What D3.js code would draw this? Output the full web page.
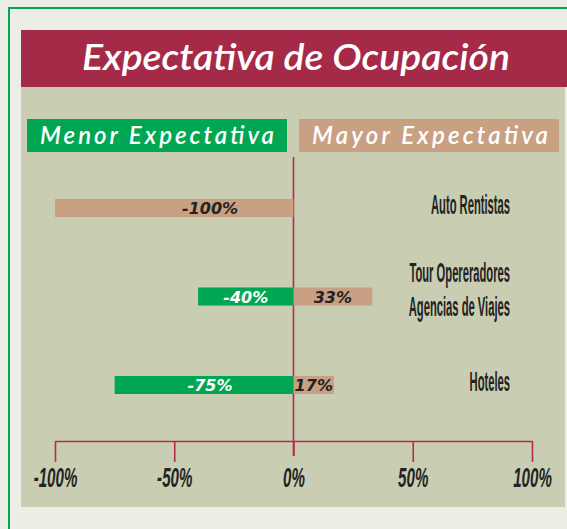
<!DOCTYPE html>
<html>
<head>
<meta charset="utf-8">
<script src="https://cdn.jsdelivr.net/npm/d3@7/dist/d3.min.js"></script>
<style>
  html, body { margin: 0; padding: 0; background: #ecede4; }
  svg { display: block; }
</style>
</head>
<body>
<svg id="chart" width="567" height="529"></svg>
<script>
// Segments and their expectation shares (%)
const categories = ["Auto Rentistas", "Tour Opereradores\nAgencias de Viajes", "Hoteles"];
const menorValues = [null, -40, -75];   // "Menor Expectativa" (green)
const mayorValues = [-100, 33, 17];     // "Mayor Expectativa" (tan)
const tickValues = [-100, -50, 0, 50, 100];
const tickLabels = ["-100%", "-50%", "0%", "50%", "100%"];
const titleText = "Expectativa de Ocupación";
const legendLabels = ["Menor Expectativa", "Mayor Expectativa"];

const W = 567, H = 529;
const C = {
  page: "#ecede4", frame: "#00a651", panel: "#c9cdb1", title: "#a52a48",
  green: "#00a651", tan: "#c9a083", axis: "#b32c4d", ink: "#232323"
};

const svg = d3.select("#chart");

// page frame
svg.append("rect").attr("width", W).attr("height", H).attr("fill", C.page);
svg.append("path").attr("d", `M9,${H} V8 H${W}`)
  .attr("fill", "none").attr("stroke", C.frame).attr("stroke-width", 2);

// panel and title bar
svg.append("rect").attr("x", 21).attr("y", 87).attr("width", 544).attr("height", 420).attr("fill", C.panel);
svg.append("rect").attr("x", 21).attr("y", 30).attr("width", W - 21).attr("height", 57).attr("fill", C.title);
svg.append("text").text(titleText)
  .attr("x", 296).attr("y", 70).attr("text-anchor", "middle")
  .attr("fill", "#fff").attr("font-family", "Lato, 'Open Sans', sans-serif")
  .attr("font-style", "italic").attr("font-weight", 600).attr("font-size", 37)
  .attr("textLength", 428).attr("lengthAdjust", "spacingAndGlyphs");

// legend boxes
const legend = [
  { label: legendLabels[0], color: C.green, x: 27, w: 260, tx: 40, tw: 234 },
  { label: legendLabels[1], color: C.tan, x: 299, w: 260, tx: 312, tw: 236 }
];
legend.forEach(l => {
  svg.append("rect").attr("x", l.x).attr("y", 119).attr("width", l.w).attr("height", 33).attr("fill", l.color);
  svg.append("text").text(l.label)
    .attr("x", l.tx).attr("y", 144).attr("fill", "#fff")
    .attr("font-family", "Lato, 'Open Sans', sans-serif").attr("font-style", "italic")
    .attr("font-weight", 600).attr("font-size", 24)
    .attr("textLength", l.tw).attr("lengthAdjust", "spacing");
});

// scales
const x = d3.scaleLinear().domain([-100, 100]).range([55, 532]);
const y = d3.scalePoint().domain(categories).range([208, 385]);
const barH = 18;

// zero line
svg.append("line")
  .attr("x1", x(0)).attr("x2", x(0)).attr("y1", 157).attr("y2", 456)
  .attr("stroke", C.axis).attr("stroke-width", 1.6);

// bars
const series = [
  { values: menorValues, color: C.green, textColor: "#fff" },
  { values: mayorValues, color: C.tan, textColor: C.ink }
];
const gBars = svg.append("g");
series.forEach(s => {
  const rows = categories.map((c, i) => ({ c, v: s.values[i] })).filter(d => d.v != null);
  gBars.selectAll(null).data(rows).enter().append("rect")
    .attr("x", d => x(Math.min(0, d.v)))
    .attr("y", d => y(d.c) - barH / 2)
    .attr("width", d => Math.abs(x(d.v) - x(0)))
    .attr("height", barH)
    .attr("fill", s.color);
  gBars.selectAll(null).data(rows).enter().append("text")
    .text(d => String(d.v) + "%")
    .attr("x", d => x(d.v < 0 ? Math.max(d.v / 2, -35) : d.v / 2))
    .attr("y", d => y(d.c) + 6)
    .attr("text-anchor", "middle")
    .attr("fill", s.textColor)
    .attr("font-family", "'DejaVu Sans', sans-serif")
    .attr("font-style", "italic").attr("font-weight", "bold").attr("font-size", 16);
});

// category labels, right aligned, drawn in a horizontally condensed group
categories.forEach(c => {
  const lines = c.split("\n");
  const offsets = lines.length === 1 ? [6] : [-15, 19];
  lines.forEach((ln, j) => {
    svg.append("g")
      .attr("transform", `translate(510,${y(c) + offsets[j]}) scale(0.40,1)`)
      .append("text").text(ln)
      .attr("x", 0).attr("y", 0)
      .attr("text-anchor", "end").attr("fill", C.ink)
      .attr("font-family", "'Liberation Sans', Arial, sans-serif")
      .attr("font-weight", "bold").attr("font-size", 28);
  });
});

// axis
const axis = d3.axisBottom(x)
  .tickValues(tickValues)
  .tickFormat((d, i) => tickLabels[i])
  .tickSize(21).tickSizeOuter(0).tickPadding(4);
const gAxis = svg.append("g").attr("transform", "translate(0,441)").call(axis);
gAxis.select(".domain").attr("stroke", C.axis).attr("stroke-width", 1.6);
gAxis.selectAll(".tick line").attr("stroke", C.axis).attr("stroke-width", 1.6)
  .attr("y2", d => d === 0 ? 15 : 21);
// condensed italic tick labels
gAxis.selectAll(".tick text")
  .attr("dy", null).attr("y", 46)
  .attr("transform", "scale(0.54,1)")
  .attr("fill", C.ink)
  .attr("font-family", "'Liberation Sans', Arial, sans-serif")
  .attr("font-style", "italic").attr("font-weight", "bold").attr("font-size", 28);
</script>
</body>
</html>
